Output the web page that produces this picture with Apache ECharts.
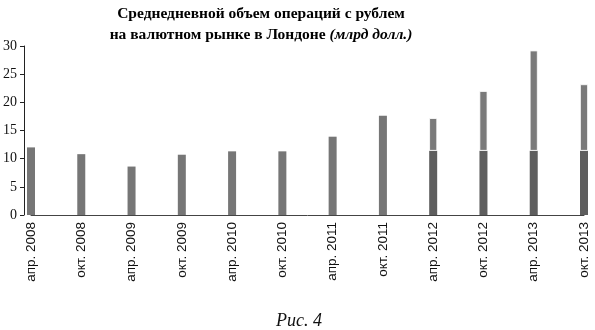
<!DOCTYPE html>
<html>
<head>
<meta charset="utf-8">
<script src="https://cdn.jsdelivr.net/npm/echarts@6/dist/echarts.min.js"></script>
<style>
html,body{margin:0;padding:0;background:#fff;}
#c{width:595px;height:330px;}
</style>
</head>
<body>
<div id="c"></div>
<script>
var categories = ['апр. 2008','окт. 2008','апр. 2009','окт. 2009','апр. 2010','окт. 2010','апр. 2011','окт. 2011','апр. 2012','окт. 2012','апр. 2013','окт. 2013'];
var lowerValues = [12.0, 10.8, 8.6, 10.7, 11.3, 11.3, 13.9, 17.6, 11.4, 11.4, 11.4, 11.4];
var upperValues = [null, null, null, null, null, null, null, null, 5.8, 10.6, 17.8, 11.8];
var yTicks = [0, 5, 10, 15, 20, 25, 30];

var chart = echarts.init(document.getElementById('c'), null, {renderer: 'canvas'});
chart.setOption({
  animation: false,
  backgroundColor: '#fff',
  title: [{
    text: '{b|Среднедневной объем операций с рублем}\n{b|на валютном рынке в Лондоне }{i|(млрд долл.)}',
    left: 256, top: -2, textAlign: 'center',
    textStyle: {
      rich: {
        b: {fontFamily: 'Liberation Serif', fontWeight: 'bold', fontSize: 15.5, color: '#000', lineHeight: 21},
        i: {fontFamily: 'Liberation Serif', fontStyle: 'italic', fontSize: 15.5, color: '#000', lineHeight: 21}
      }
    }
  }, {
    text: 'Рис. 4',
    left: 294, top: 307, textAlign: 'center',
    textStyle: {fontFamily: 'Liberation Serif', fontStyle: 'italic', fontWeight: 'normal', fontSize: 18, color: '#111'}
  }],
  grid: {left: 31, right: 11, top: 46, bottom: 115},
  xAxis: {
    type: 'category',
    data: categories,
    boundaryGap: false,
    axisLine: {lineStyle: {color: '#444', width: 1}},
    axisTick: {show: false},
    axisLabel: {rotate: 90, interval: 0, margin: 7, fontFamily: 'Liberation Sans', fontSize: 13.5, color: '#111'}
  },
  yAxis: {
    type: 'value', min: 0, max: 30, interval: 5, offset: 7,
    axisLine: {show: true, lineStyle: {color: '#222', width: 1}},
    axisTick: {show: true, length: 4, lineStyle: {color: '#222'}},
    splitLine: {show: false},
    axisLabel: {margin: 7, fontFamily: 'Liberation Serif', fontSize: 14, color: '#111',
      formatter: function (v) { return yTicks.indexOf(v) >= 0 ? String(v) : ''; }}
  },
  series: [{
    type: 'bar', stack: 's', barWidth: 8,
    data: lowerValues.map(function (v, i) {
      return {value: v, itemStyle: {color: upperValues[i] != null ? '#5e5e5e' : '#767676'}};
    })
  }, {
    type: 'bar', stack: 's', barWidth: 8,
    itemStyle: {color: '#7a7a7a', borderColor: '#ffffff', borderWidth: 0.8},
    data: upperValues
  }]
});
</script>
</body>
</html>
